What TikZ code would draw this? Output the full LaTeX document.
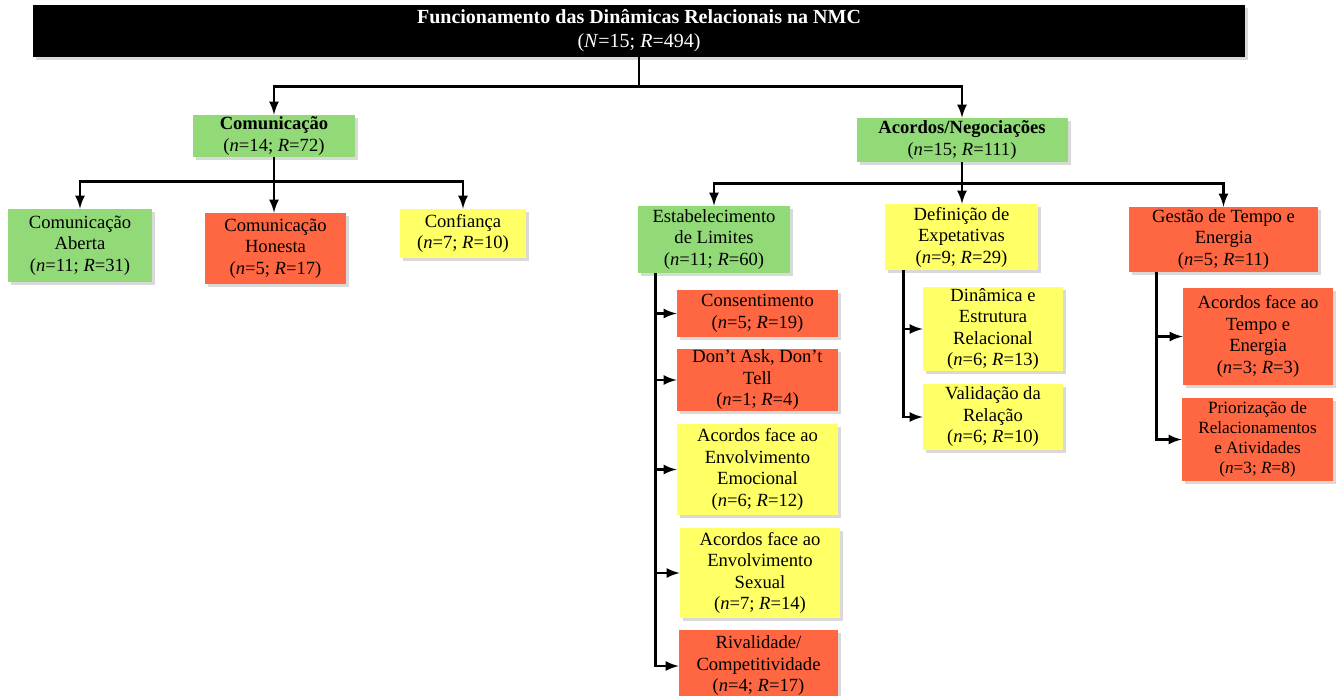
\documentclass[tikz,border=0pt]{standalone}
\usepackage{fontspec}
\setmainfont{Liberation Serif}
\usetikzlibrary{arrows}
\usetikzlibrary{shadows}
\definecolor{grn}{RGB}{146,217,120}
\definecolor{org}{RGB}{255,102,66}
\definecolor{ylw}{RGB}{255,255,102}

\begin{document}
\begin{tikzpicture}[x=0.5pt,y=-0.5pt,
		cat/.style={rectangle, inner sep=0pt, align=center,
			font=\fontsize{9.3}{10.75}\selectfont,
			drop shadow={shadow xshift=1.5pt, shadow yshift=-1.5pt, opacity=0.3}},
		arr/.style={-latex, line width=1.25pt}]
			\useasboundingbox (0,0) rectangle (1341,696);
			
			% topo
			\node[cat, fill=black, text=white, font=\fontsize{10}{12}\selectfont,
				minimum width=606pt, minimum height=26pt] (title) at (639,31)
				{\textbf{Funcionamento das Dinâmicas Relacionais na NMC}\\(\textit{N}=15; \textit{R}=494)};
			
			% categorias
			\node[cat, fill=grn, minimum width=81pt, minimum height=21pt] (com) at (274,136)
				{\textbf{Comunicação}\\(\textit{n}=14; \textit{R}=72)};
			\node[cat, fill=grn, minimum width=105.5pt, minimum height=22pt] (acn) at (962,140)
				{\textbf{Acordos/Negociações}\\(\textit{n}=15; \textit{R}=111)};
			
			% subcategorias
			\node[cat, fill=grn, minimum width=72pt, minimum height=36.5pt] (cab) at (80,245.5)
				{Comunicação\\Aberta\\(\textit{n}=11; \textit{R}=31)};
			\node[cat, fill=org, minimum width=70.5pt, minimum height=35.5pt] (chon) at (275.5,248.5)
				{Comunicação\\Honesta\\(\textit{n}=5; \textit{R}=17)};
			\node[cat, fill=ylw, minimum width=63pt, minimum height=24.5pt] (conf) at (463,233.5)
				{Confiança\\(\textit{n}=7; \textit{R}=10)};
			\node[cat, fill=grn, minimum width=76pt, minimum height=33.5pt] (lim) at (714,239.5)
				{Estabelecimento\\de Limites\\(\textit{n}=11; \textit{R}=60)};
			\node[cat, fill=ylw, minimum width=76.5pt, minimum height=33pt] (dex) at (961.5,237)
				{Definição de\\Expetativas\\(\textit{n}=9; \textit{R}=29)};
			\node[cat, fill=org, minimum width=94.5pt, minimum height=32.5pt] (gte) at (1223.5,239.5)
				{Gestão de Tempo e\\Energia\\(\textit{n}=5; \textit{R}=11)};
			
			% estabelecimento de limites
			\node[cat, fill=org, minimum width=80.5pt, minimum height=23.5pt] (cons) at (757.5,313.5)
				{Consentimento\\(\textit{n}=5; \textit{R}=19)};
			\node[cat, fill=org, minimum width=80.5pt, minimum height=31pt] (dadt) at (757.5,380)
				{Don’t Ask, Don’t\\Tell\\(\textit{n}=1; \textit{R}=4)};
			\node[cat, fill=ylw, minimum width=80.5pt, minimum height=45.5pt] (aem) at (757.5,469.5)
				{Acordos face ao\\Envolvimento\\Emocional\\(\textit{n}=6; \textit{R}=12)};
			\node[cat, fill=ylw, minimum width=80pt, minimum height=45pt] (asx) at (760,573)
				{Acordos face ao\\Envolvimento\\Sexual\\(\textit{n}=7; \textit{R}=14)};
			\node[cat, fill=org, minimum width=79.5pt, minimum height=36pt] (riv) at (758.5,666)
				{Rivalidade/\\Competitividade\\(\textit{n}=4; \textit{R}=17)};
			
			% definicao de expetativas
			\node[cat, fill=ylw, minimum width=70pt, minimum height=42pt] (din) at (993,329)
				{Dinâmica e\\Estrutura\\Relacional\\(\textit{n}=6; \textit{R}=13)};
			\node[cat, fill=ylw, minimum width=70pt, minimum height=33pt] (val) at (993,417)
				{Validação da\\Relação\\(\textit{n}=6; \textit{R}=10)};
			
			% gestao de tempo e energia
			\node[cat, fill=org, minimum width=75pt, minimum height=48.5pt] (ate) at (1258,336.5)
				{Acordos face ao\\Tempo e\\Energia\\(\textit{n}=3; \textit{R}=3)};
			\node[cat, fill=org, minimum width=75.5pt, minimum height=41.5pt,
				font=\fontsize{8.6}{10}\selectfont] (pri) at (1257.5,439.5)
				{Priorização de\\Relacionamentos\\e Atividades\\(\textit{n}=3; \textit{R}=8)};
			
			% ligacoes
			\draw[arr] (title.south) -- ++(0,29) -| (com);
			\draw[arr] (title.south) -- ++(0,29) -| (acn);
			
			\draw[arr] (com.south) -- ++(0,24) -| (cab);
			\draw[arr] (com.south) -- (com.south |- chon.north);
			\draw[arr] (com.south) -- ++(0,24) -| (conf);
			
			\draw[arr] (acn.south) -- ++(0,21) -| (lim);
			\draw[arr] (acn.south) -- (acn.south |- dex.north);
			\draw[arr] (acn.south) -- ++(0,21) -| (gte);
			
			\foreach \n in {cons,dadt,aem,asx,riv}
				\draw[arr] ([xshift=9pt]lim.south west) |- (\n);
			\foreach \n in {din,val}
				\draw[arr] ([xshift=9.5pt]dex.south west) |- (\n);
			\foreach \n in {ate,pri}
				\draw[arr] ([xshift=14pt]gte.south west) |- (\n);
		\end{tikzpicture}
\end{document}
